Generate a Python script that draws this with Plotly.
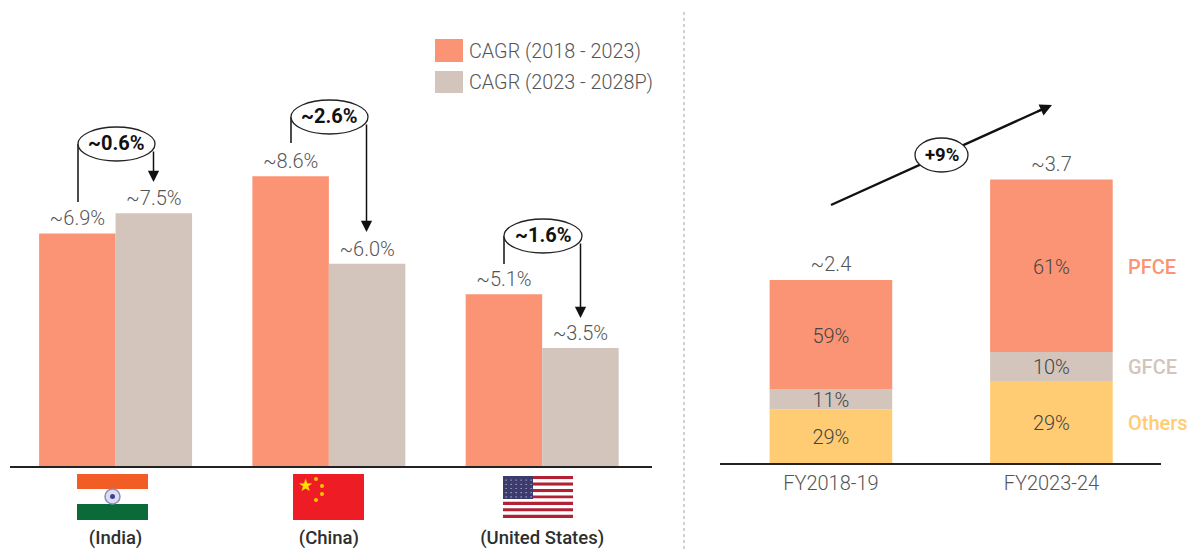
import plotly.graph_objects as go

W, H = 1190, 551
FONT = "Roboto"
ORANGE, BEIGE, YELLOW = "#FB9474", "#D3C4BC", "#FFCC73"
GREY = "#555555"

# ---- data ----
countries = ["(India)", "(China)", "(United States)"]
cagr_18_23 = [6.9, 8.6, 5.1]
cagr_23_28 = [7.5, 6.0, 3.5]
series_names = ["CAGR (2018 - 2023)", "CAGR (2023 - 2028P)"]

years = ["FY2018-19", "FY2023-24"]
others = [0.70, 1.07]
gfce = [0.26, 0.38]
pfce = [1.43, 2.25]
totals = [2.4, 3.7]
others_pct = ["29%", "29%"]
gfce_pct = ["11%", "10%"]
pfce_pct = ["59%", "61%"]
seg_names = ["PFCE", "GFCE", "Others"]

def X(p): return p / W
def Y(p): return 1 - p / H

PX2 = 1 / 76.6  # data units per pixel on the right-hand chart

fig = go.Figure()
for name, vals, col, off in [(series_names[0], cagr_18_23, ORANGE, -0.3586), (series_names[1], cagr_23_28, BEIGE, 0)]:
    fig.add_trace(go.Bar(name=name, x=countries, y=vals, marker_color=col, marker_line_width=0,
                         width=0.3586, offset=off, text=[f"~{v:.1f}%" for v in vals], textposition="outside",
                         textfont=dict(family=FONT, size=20, color=GREY, weight=300), cliponaxis=False,
                         xaxis="x", yaxis="y", showlegend=False))

right_bars = [("Others", others, others_pct, YELLOW), ("GFCE", gfce, gfce_pct, BEIGE), ("PFCE", pfce, pfce_pct, ORANGE)]
base = [0, 0]
for name, vals, labels, col in right_bars:
    fig.add_trace(go.Bar(name=name, x=years, y=vals, base=base, marker_color=col, marker_line_width=0,
                         xaxis="x2", yaxis="y2", width=0.556, showlegend=False))
    mids = [b + v / 2 - 3 * PX2 for b, v in zip(base, vals)]
    fig.add_trace(go.Scatter(x=years, y=mids, text=labels, mode="text", textposition="middle center",
                             textfont=dict(family=FONT, size=20, color="#444444", weight=300), xaxis="x2", yaxis="y2",
                             showlegend=False, hoverinfo="skip"))
    base = [b + v for b, v in zip(base, vals)]
fig.add_trace(go.Scatter(x=years, y=[b + 4 * PX2 for b in base], text=[f"~{t}" for t in totals], mode="text",
                         textposition="top center",
                         textfont=dict(family=FONT, size=20, color=GREY, weight=300), xaxis="x2", yaxis="y2",
                         showlegend=False, hoverinfo="skip", cliponaxis=False))

shapes, annos = [], []
def rect(x0, y0, x1, y1, fill, line=None, kind="rect", lw=0):
    shapes.append(dict(type=kind, xref="paper", yref="paper", x0=X(x0), x1=X(x1), y0=Y(y1), y1=Y(y0),
                       fillcolor=fill, line=dict(color=line or fill, width=lw), layer="above"))
def seg(x0, y0, x1, y1, color="#111", width=1.5, dash="solid"):
    shapes.append(dict(type="line", xref="paper", yref="paper", x0=X(x0), x1=X(x1), y0=Y(y0), y1=Y(y1),
                       line=dict(color=color, width=width, dash=dash), layer="above"))
def text(x, y, s, size=16, color=GREY, anchor="center", weight=None):
    annos.append(dict(xref="paper", yref="paper", x=X(x), y=Y(y), text=s, showarrow=False, xanchor=anchor, yanchor="middle",
                      font=dict(family=FONT, size=size, color=color, weight=weight)))
def arrow(x0, y0, x1, y1, width=1.5, size=1):
    annos.append(dict(xref="paper", yref="paper", x=X(x1), y=Y(y1), ax=x0 - x1, ay=y0 - y1, axref="pixel", ayref="pixel",
                      text="", showarrow=True, arrowhead=2, arrowsize=size, arrowwidth=width, arrowcolor="#111"))

# divider
seg(684, 12, 684, 549, "#ABABAB", 1.1, "3px,3px")

# legend
rect(435, 39, 463, 62, ORANGE)
rect(435, 71, 463, 93, BEIGE)
text(467, 51, series_names[0], 19.8, GREY, "left", 300)
text(467, 82, series_names[1], 19.8, GREY, "left", 300)

# difference callouts
for x0, x1, yc, ytop, yl, yr, lab in [
    (78, 155, 144, 127, 202, 182, "~0.6%"),
    (291, 368, 117, 100, 143, 232, "~2.6%"),
    (504, 582, 236, 219, 264, 318, "~1.6%"),
]:
    seg(x0, yc, x0, yl)
    arrow(x1 - 1.5, yc + 6, x1 - 1.5, yr, 1.5, 1.5)
    rect(x0, ytop, x1, 2 * yc - ytop, "white", "#222", "circle", 1.3)
    text((x0 + x1) / 2, yc - 1, lab, 20, "#111", weight=700)

# growth arrow
seg(831, 205, 1042, 109.5, "#111", 2.4)
arrow(1036, 112.2, 1052, 105, 2.4, 1)
rect(915, 138, 968, 172, "white", "#222", "circle", 1.3)
text(941.5, 155, "+9%", 18.5, "#111", weight=700)

# segment labels
text(1126, 267, seg_names[0], 20, ORANGE, "left", 500)
text(1126, 367, seg_names[1], 20, BEIGE, "left", 500)
text(1126, 423, seg_names[2], 20, YELLOW, "left", 500)

# flags: India
rect(77, 474, 148, 489, "#F15D25")
rect(77, 504, 148, 520, "#0B6B38")
rect(105, 489, 120, 504, "#DDDDF0", "#8C8CC0", "circle", 1.5)
rect(110, 494, 115, 499, "#3F3F90", None, "circle")
# China
rect(293, 474, 364, 520, "#EE1C25")
annos.append(dict(xref="paper", yref="paper", x=X(305), y=Y(485), text="★", showarrow=False, xanchor="center", yanchor="middle",
                  font=dict(size=17, color="#FFE000", family="DejaVu Sans")))
for sx, sy in [(316, 479), (322, 486), (322, 494), (316, 500)]:
    rect(sx - 2, sy - 2, sx + 2, sy + 2, "#FFC400", None, "circle")
# USA
for i in range(13):
    y0 = 476 + i * 42 / 13
    rect(503, y0, 573, y0 + 42 / 13, "#B22234" if i % 2 == 0 else "#FFFFFF")
rect(503, 476, 533, 499, "#3C3B6E")
for r in range(5):
    for c in range(6):
        rect(505.5 + c * 5, 479.5 + r * 4.2, 506.7 + c * 5, 480.7 + r * 4.2, "#D8D8EA", None, "circle")

fig.update_layout(
    width=W, height=H, margin=dict(l=0, r=0, t=0, b=0), paper_bgcolor="white", plot_bgcolor="white",
    barmode="overlay", showlegend=False, shapes=shapes, annotations=annos,
    font=dict(family=FONT),
    xaxis=dict(domain=[X(10), X(652)], range=[-0.495, 2.515], type="category", showgrid=False, zeroline=False, automargin=False,
               showline=True, linecolor="#222", linewidth=1.6, ticks="outside", ticklen=54, tickcolor="rgba(0,0,0,0)",
               tickfont=dict(family=FONT, size=18.5, color="#2E2E2E", weight=500)),
    yaxis=dict(domain=[Y(466), Y(10)], range=[0, 456 / 33.7], visible=False, automargin=False),
    xaxis2=dict(domain=[X(720), X(1161)], range=[-0.503, 1.497], type="category", anchor="y2", showgrid=False, zeroline=False,
                automargin=False, showline=True, linecolor="#222", linewidth=1.6, ticks="outside", ticklen=1,
                tickcolor="rgba(0,0,0,0)", tickfont=dict(family=FONT, size=20, color=GREY, weight=300)),
    yaxis2=dict(domain=[Y(463), Y(10)], range=[0, 453 / 76.6], anchor="x2", visible=False, automargin=False),
)
fig.write_html("out.html", config={"displayModeBar": False},
               post_script="document.body.style.margin='0';document.body.style.overflow='hidden';")
